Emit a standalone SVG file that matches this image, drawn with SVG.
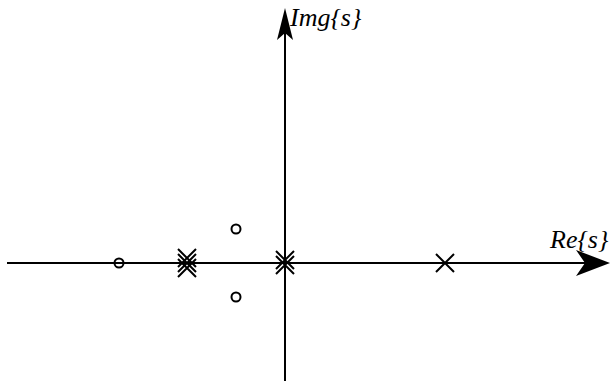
<svg xmlns="http://www.w3.org/2000/svg" width="613" height="381" viewBox="0 0 613 381">
<style>
.ax{stroke:#000;stroke-width:2;fill:none}
.ah{fill:#000;stroke:none}
.pole{stroke:#000;stroke-width:2;fill:none}
.zero{stroke:#000;stroke-width:2;fill:none}
.lbl{font-family:"Liberation Serif",serif;font-style:italic;font-size:26px;fill:#000}
</style>
<defs>
<path id="x" d="M-9,-9 L9,9 M-9,9 L9,-9"/>
</defs>
<g id="connectors">
<line class="ax" x1="7" y1="263" x2="596" y2="263"/>
<path class="ah" d="M610,263 L576,250 L585,263 L576,276 Z"/>
<line class="ax" x1="285" y1="381" x2="285" y2="22"/>
<path class="ah" d="M285,8 L277,40 L285,33 L293,40 Z"/>
</g>
<g id="label-img"><text class="lbl" x="290" y="26">Img{s}</text></g>
<g id="label-re"><text class="lbl" x="550" y="248">Re{s}</text></g>
<g id="pole-left" class="pole">
<use href="#x" x="187" y="258"/>
<use href="#x" x="187" y="263"/>
<use href="#x" x="187" y="268"/>
</g>
<g id="pole-origin" class="pole">
<use href="#x" x="285" y="260"/>
<use href="#x" x="285" y="265"/>
</g>
<g id="pole-right" class="pole"><use href="#x" x="445" y="263"/></g>
<g id="zero-left"><circle class="zero" cx="119" cy="263" r="4.5"/></g>
<g id="zero-upper"><circle class="zero" cx="236" cy="229" r="4.5"/></g>
<g id="zero-lower"><circle class="zero" cx="236" cy="297" r="4.5"/></g>
</svg>
